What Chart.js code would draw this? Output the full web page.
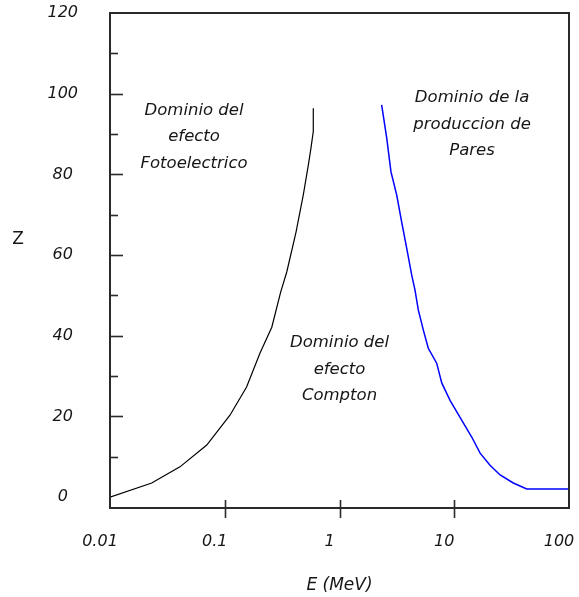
<!DOCTYPE html>
<html><head><meta charset="utf-8">
<script src="https://cdn.jsdelivr.net/npm/chart.js@4"></script>
<style>html,body{margin:0;padding:0;background:#fff}#wrap{width:579px;height:597px}</style>
</head><body><div id="wrap"><canvas id="c"></canvas></div>
<script>
// Data
const xTickValues = [0.01, 0.1, 1, 10, 100];
const yTickValues = [0, 20, 40, 60, 80, 100, 120];
const photoE = [0.01, 0.0231, 0.0407, 0.0697, 0.111, 0.155, 0.203, 0.257, 0.307, 0.347, 0.418, 0.4836, 0.535, 0.564, 0.590, 0.591];
const photoZ = [0, 3.5, 7.5, 12.9, 20.3, 27.3, 35.7, 42.1, 50.8, 55.8, 65.7, 74.9, 82.3, 86.5, 90.5, 96.4];
const pairE = [2.33, 2.58, 2.81, 3.15, 3.48, 3.85, 4.26, 4.55, 4.86, 5.38, 5.94, 7.03, 7.78, 9.19, 11.2, 14.2, 16.8, 20.5, 25.1, 32.7, 42.8, 100];
const pairZ = [97.2, 89.0, 80.6, 74.9, 68.2, 61.7, 55.0, 51.3, 46.4, 41.4, 36.9, 33.2, 28.3, 24.0, 19.8, 14.9, 10.9, 7.9, 5.5, 3.5, 2.0, 2.0];
const regionLabels = [
  ["Dominio del", "efecto", "Fotoelectrico"],
  ["Dominio del", "efecto", "Compton"],
  ["Dominio de la", "produccion de", "Pares"]
];
const regionAnchors = [ {x: 0.054, y: 95.9}, {x: 1.0, y: 38.2}, {x: 14.3, y: 98.9} ];

const FONT = "'DejaVu Sans', sans-serif";
const TXT = '#161616';

const decor = {
  id: 'decor',
  afterDatasetsDraw(chart) {
    const ctx = chart.ctx, a = chart.chartArea;
    const xs = chart.scales.x, ys = chart.scales.y;
    ctx.save();
    ctx.strokeStyle = '#2a2a2a';
    ctx.lineWidth = 2;
    ctx.strokeRect(a.left, a.top, a.right - a.left, a.bottom - a.top);
    ctx.lineWidth = 1.6;
    for (let v = 10; v <= 110; v += 10) {
      const py = Math.round(ys.getPixelForValue(v)) + 0.5;
      const len = (v % 20 === 0) ? 13 : 8;
      ctx.beginPath(); ctx.moveTo(a.left, py); ctx.lineTo(a.left + len, py); ctx.stroke();
    }
    [0.1, 1, 10].forEach(v => {
      const px = Math.round(xs.getPixelForValue(v)) + 0.5;
      ctx.beginPath(); ctx.moveTo(px, a.bottom - 8); ctx.lineTo(px, a.bottom + 10); ctx.stroke();
    });
    ctx.fillStyle = TXT;
    ctx.font = "italic 16.5px " + FONT;
    ctx.textAlign = 'center';
    ctx.textBaseline = 'middle';
    regionLabels.forEach((lines, i) => {
      const cx = xs.getPixelForValue(regionAnchors[i].x);
      const cy = ys.getPixelForValue(regionAnchors[i].y);
      lines.forEach((t, j) => ctx.fillText(t, cx, cy + j * 26.5));
    });
    ctx.font = "17px " + FONT;
    ctx.fillText('Z', 18, (a.top + a.bottom) / 2 - 21);
    ctx.restore();
  }
};

const zeroPad = s => { s.paddingLeft = 0; s.paddingRight = 0; s.paddingTop = 0; s.paddingBottom = 0; };

new Chart(document.getElementById('c'), {
  type: 'scatter',
  data: {
    datasets: [
      { data: photoE.map((e, i) => ({x: e, y: photoZ[i]})), showLine: true, borderColor: '#000', borderWidth: 1.2, pointRadius: 0, tension: 0 },
      { data: pairE.map((e, i) => ({x: e, y: pairZ[i]})), showLine: true, borderColor: '#0000ff', borderWidth: 1.5, pointRadius: 0, tension: 0 }
    ]
  },
  options: {
    responsive: true, maintainAspectRatio: false, animation: false,
    layout: { padding: { left: 0, top: 13, right: 10, bottom: 0 } },
    plugins: { legend: { display: false }, tooltip: { enabled: false } },
    scales: {
      x: {
        type: 'logarithmic', min: 0.01, max: 100,
        afterBuildTicks: s => { s.ticks = xTickValues.map(v => ({value: v})); },
        afterFit: s => { s.height = 89; zeroPad(s); },
        grid: { display: false, drawTicks: false },
        border: { display: false },
        ticks: { color: TXT, font: { family: FONT, size: 16, style: 'italic' }, padding: 24, labelOffset: -10, maxRotation: 0, autoSkip: false,
          callback: v => String(v) },
        title: { display: true, text: 'E (MeV)', color: TXT, font: { family: FONT, size: 17, style: 'italic' }, padding: { top: 0, bottom: 1 } }
      },
      y: {
        min: -2.7, max: 120,
        afterBuildTicks: s => { s.ticks = yTickValues.map(v => ({value: v})); },
        afterFit: s => { s.width = 110; zeroPad(s); },
        grid: { display: false, drawTicks: false },
        border: { display: false },
        ticks: { color: TXT, font: { family: FONT, size: 16, style: 'italic' }, padding: 32, crossAlign: 'center',
          callback: v => String(v) }
      }
    }
  },
  plugins: [decor]
});
</script></body></html>
